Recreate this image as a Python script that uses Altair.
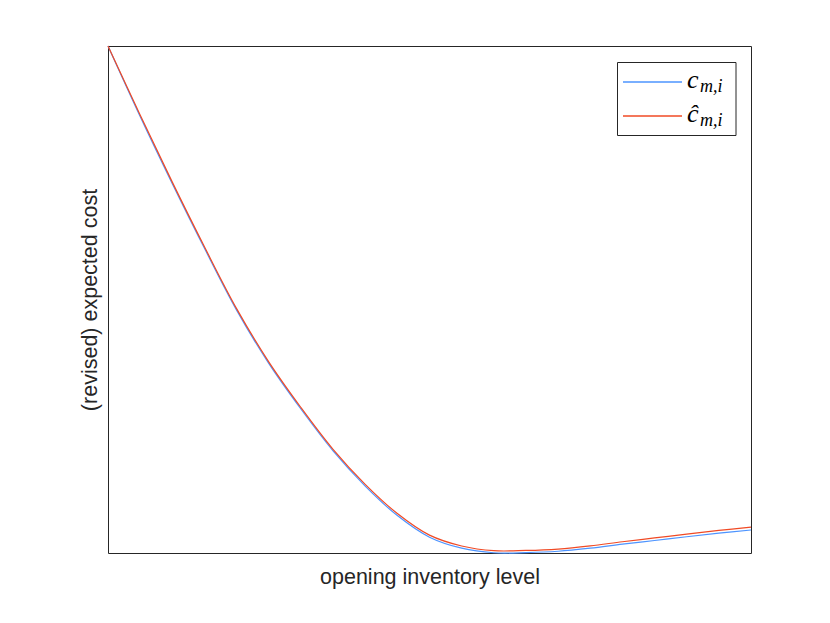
import altair as alt
import pandas as pd

# opening inventory level (arbitrary units, axis has no ticks)
inventory = [0, 5, 10, 15, 20, 25, 30, 35, 40, 45, 50, 55, 60, 65, 70, 75, 80, 85, 90, 95, 100]
# c_{m,i}
cost_c = [100, 86.1, 72.85, 60.1, 47.9, 37.4, 28.4, 20.15, 13.2, 7.38, 3.12, 0.95, 0.05,
          0.08, 0.34, 0.95, 1.74, 2.47, 3.21, 3.91, 4.54]
# hat c_{m,i}
cost_chat = [100, 86.4, 73.15, 60.4, 48.2, 37.7, 28.7, 20.45, 13.55, 7.78, 3.52, 1.38, 0.45,
             0.5, 0.78, 1.4, 2.22, 2.97, 3.73, 4.45, 5.1]

BLUE = "#4D94FF"
RED = "#F04A25"
INK = "#262626"

df_c = pd.DataFrame({"x": inventory, "y": cost_c})
df_h = pd.DataFrame({"x": inventory, "y": cost_chat})
one = pd.DataFrame({"k": [0]})

xs = alt.Scale(domain=[0, 100], nice=False, zero=False)
ys = alt.Scale(domain=[0, 100], nice=False, zero=False)

x_axis = alt.Axis(labels=False, ticks=False, grid=False, domain=False,
                  title="opening inventory level", titleFont="Liberation Sans",
                  titleFontSize=21.5, titleFontWeight="normal", titleColor=INK,
                  titlePadding=13)
y_axis = alt.Axis(labels=False, ticks=False, grid=False, domain=False,
                  title="(revised) expected cost", titleFont="Liberation Sans",
                  titleFontSize=21.5, titleFontWeight="normal", titleColor=INK,
                  titlePadding=7)

line_c = alt.Chart(df_c).mark_line(color=BLUE, strokeWidth=1.2, interpolate="catmull-rom").encode(
    x=alt.X("x:Q", scale=xs, axis=x_axis),
    y=alt.Y("y:Q", scale=ys, axis=y_axis),
)
line_h = alt.Chart(df_h).mark_line(color=RED, strokeWidth=1.2, interpolate="catmull-rom").encode(
    x=alt.X("x:Q", scale=xs),
    y=alt.Y("y:Q", scale=ys),
)

# legend (drawn manually so the math-style labels can be reproduced)
leg_box = alt.Chart(one).mark_rect(fill="white", stroke=INK, strokeWidth=1).encode(
    x=alt.value(509.5), x2=alt.value(628), y=alt.value(16.5), y2=alt.value(89.5))
leg_c = alt.Chart(one).mark_rule(stroke=BLUE, color=BLUE, strokeWidth=1.5).encode(
    x=alt.value(515), x2=alt.value(574), y=alt.value(36))
leg_h = alt.Chart(one).mark_rule(stroke=RED, color=RED, strokeWidth=1.5).encode(
    x=alt.value(515), x2=alt.value(574), y=alt.value(70))

def txt(s, x, y, size):
    return alt.Chart(one).mark_text(text=s, font="Liberation Serif", fontStyle="italic",
                                    fontSize=size, color="black", align="left",
                                    baseline="alphabetic").encode(
        x=alt.value(x), y=alt.value(y))

labels = [
    txt("c", 579, 41.5, 26),
    txt("m,i", 592, 46, 18),
    txt("ĉ", 579, 76, 26),
    txt("m,i", 592, 80, 18),
]

chart = alt.layer(line_c, line_h, leg_box, leg_c, leg_h, *labels).properties(
    width=643, height=507,
    autosize=alt.AutoSizeParams(type="none"),
    padding={"left": 100, "top": 38, "right": 60, "bottom": 50},
    background="white",
).configure_view(stroke=INK, strokeWidth=1)

chart.save("out.html", embed_options={"renderer": "svg", "actions": False})
